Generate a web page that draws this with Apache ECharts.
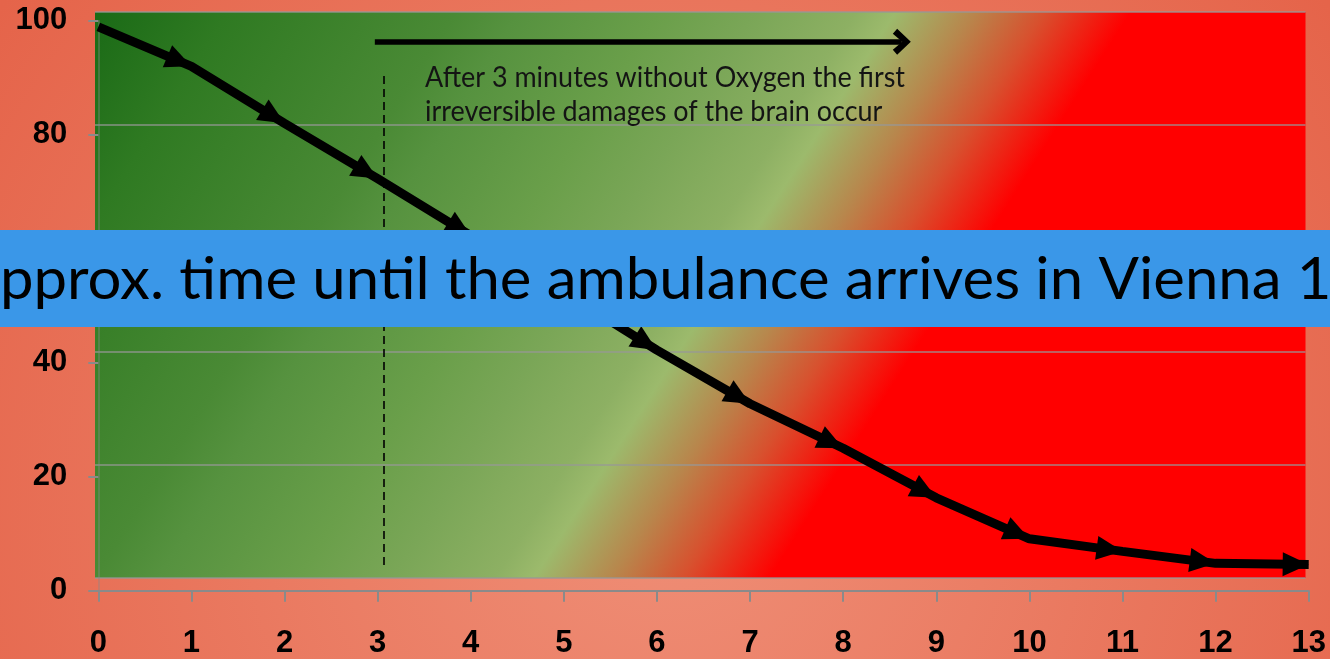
<!DOCTYPE html>
<html>
<head>
<meta charset="utf-8">
<script src="https://cdn.jsdelivr.net/npm/echarts@6/dist/echarts.min.js"></script>
<style>
html,body{margin:0;padding:0;width:1330px;height:659px;overflow:hidden}
#c{width:1330px;height:659px}
</style>
</head>
<body>
<div id="c"></div>
<script>
// ---- data ----
const minutes  = [0, 1, 2, 3, 4, 5, 6, 7, 8, 9, 10, 11, 12, 13];
const survival = [98.9, 92.0, 82.0, 72.3, 62.3, 52.4, 42.2, 32.8, 25.0, 16.3, 9.1, 6.9, 4.8, 4.6];
const xTickMin = 0, xTickMax = 13, xTickStep = 1;
const yTickMin = 0, yTickMax = 100, yTickStep = 20;

const bannerText = 'Approx. time until the ambulance arrives in Vienna 11 min';
const noteLines = ['After 3 minutes without Oxygen the first', 'irreversible damages of the brain occur'];
const oxygenMarker = { x: 3.07, from: 4.5, to: 90.5 };      // dashed vertical line
const damageArrow  = { from: 2.97, to: 8.63, y: 96.3 };     // horizontal arrow

// ---- text fitting helpers ----
const mctx = document.createElement('canvas').getContext('2d');
function measure(txt, size, family, weight) {
  mctx.font = (weight || 'normal') + ' ' + size + 'px ' + family;
  return mctx.measureText(txt).width;
}
const FAM = 'Lato';
const bannerSize = 100 * 1297 / measure('pprox. time until the ambulance arrives in Vienna ', 100, FAM);
const bannerX = -measure('A', bannerSize, FAM);
const bannerScaleY = 42 / (0.72 * bannerSize);
const noteSize = 100 * 480 / measure(noteLines[0], 100, FAM);
const noteScaleY = 1.1;

const chart = echarts.init(document.getElementById('c'));

const plotGradient = new echarts.graphic.LinearGradient(95, 12, 95 + 1115, 12 + 712, [
  { offset: 0.00, color: '#1a6a16' },
  { offset: 0.085, color: '#2f7a22' },
  { offset: 0.23, color: '#4a8a35' },
  { offset: 0.27, color: '#56923f' },
  { offset: 0.36, color: '#6a9f4a' },
  { offset: 0.42, color: '#7aa657' },
  { offset: 0.485, color: '#8db063' },
  { offset: 0.51, color: '#9cba6c' },
  { offset: 0.56, color: '#b8864c' },
  { offset: 0.605, color: '#d8502e' },
  { offset: 0.66, color: '#ff0000' },
  { offset: 1.00, color: '#ff0000' }
], true);

const pageGradient = new echarts.graphic.RadialGradient(0.5, 0.75, 1.25, [
  { offset: 0, color: '#ef8f77' },
  { offset: 1, color: '#e5644a' }
]);

const chevron = 'path://M10,0 L20,12 L16.2,15.8 L10,7.5 L3.8,15.8 L0,12 Z';
const axisGray = '#8a8a8a';
const labelFont = { fontSize: 31, fontWeight: 'bold', color: '#000', fontFamily: 'Liberation Sans' };

function buildSeriesData(rot) {
  return minutes.map((m, i) => {
    const item = { value: [m, survival[i]] };
    if (i === 0) item.symbol = 'none';
    else if (rot) { item.symbolRotate = rot[i].angle; item.symbolOffset = rot[i].offset; }
    return item;
  });
}

const option = {
  animation: false,
  backgroundColor: pageGradient,
  grid: [
    { left: 98.3, right: 21.3, top: 20.7, bottom: 68.3, outerBoundsMode: 'none', containLabel: false },
    { left: 95, right: 24.5, top: 12, bottom: 81, show: true, backgroundColor: plotGradient, borderWidth: 0, outerBoundsMode: 'none', containLabel: false }
  ],
  xAxis: [
    {
      gridIndex: 0, type: 'value', min: xTickMin, max: xTickMax, interval: xTickStep,
      axisLine: { show: true, lineStyle: { color: axisGray, width: 2 } },
      axisTick: { show: true, length: 11, lineStyle: { color: axisGray, width: 2 } },
      axisLabel: Object.assign({ margin: 37 }, labelFont),
      splitLine: { show: false }
    },
    {
      gridIndex: 1, type: 'value', min: xTickMin, max: xTickMax, interval: xTickStep,
      axisLine: { show: false }, axisTick: { show: false }, axisLabel: { show: false }, splitLine: { show: false }
    }
  ],
  yAxis: [
    {
      gridIndex: 0, type: 'value', min: yTickMin, max: yTickMax, interval: yTickStep,
      axisLine: { show: true, lineStyle: { color: 'rgba(138,138,138,0.5)', width: 1.5 } },
      axisTick: { show: true, length: 10, lineStyle: { color: axisGray, width: 2 } },
      axisLabel: Object.assign({ margin: 31 }, labelFont),
      splitLine: { show: false }
    },
    {
      gridIndex: 1, type: 'value', min: yTickMin, max: yTickMax, interval: yTickStep,
      axisLine: { show: false }, axisTick: { show: false }, axisLabel: { show: false },
      splitLine: { show: true, lineStyle: { color: 'rgba(150,150,150,0.85)', width: 1.5 } }
    }
  ],
  series: [{
    type: 'line',
    xAxisIndex: 0, yAxisIndex: 0,
    data: buildSeriesData(null),
    symbol: 'triangle',
    symbolSize: [24, 26],
    itemStyle: { color: '#000' },
    lineStyle: { color: '#000', width: 9 },
    z: 5,
    silent: true,
    markLine: {
      silent: true,
      animation: false,
      symbol: 'none',
      label: { show: false },
      emphasis: { disabled: true },
      data: [
        [
          { coord: [oxygenMarker.x, oxygenMarker.from], symbol: 'none', lineStyle: { color: '#000', width: 1.6, type: [8, 5] } },
          { coord: [oxygenMarker.x, oxygenMarker.to], symbol: 'none', lineStyle: { color: '#000', width: 1.6, type: [8, 5] } }
        ],
        [
          { coord: [damageArrow.from, damageArrow.y], symbol: 'none', lineStyle: { color: '#000', width: 5.5, type: 'solid' } },
          { coord: [damageArrow.to, damageArrow.y], symbol: chevron, symbolSize: [26, 18], lineStyle: { color: '#000', width: 5.5, type: 'solid' } }
        ]
      ]
    }
  }],
  graphic: [
    { type: 'text', x: 425, y: 77, z: 50, silent: true, scaleY: noteScaleY,
      style: { text: noteLines[0], fill: '#141414', font: noteSize.toFixed(2) + 'px ' + FAM, textVerticalAlign: 'middle' } },
    { type: 'text', x: 425, y: 111, z: 50, silent: true, scaleY: noteScaleY,
      style: { text: noteLines[1], fill: '#141414', font: noteSize.toFixed(2) + 'px ' + FAM, textVerticalAlign: 'middle' } },
    { type: 'rect', z: 100, silent: true, shape: { x: 0, y: 230, width: 1330, height: 97 }, style: { fill: '#3a97e8' } },
    { type: 'text', x: bannerX, y: 280, z: 101, silent: true, scaleY: bannerScaleY,
      style: { text: bannerText, fill: '#000', font: bannerSize.toFixed(2) + 'px ' + FAM, textVerticalAlign: 'middle' } }
  ]
};

chart.setOption(option);

// orient the arrowheads along the incoming segment, using the library's own scales
const px = minutes.map((m, i) => chart.convertToPixel({ xAxisIndex: 0, yAxisIndex: 0 }, [m, survival[i]]));
const rot = px.map((p, i) => {
  if (i === 0) return null;
  const dx = p[0] - px[i - 1][0], dy = p[1] - px[i - 1][1];
  const len = Math.hypot(dx, dy);
  const ux = dx / len, uy = dy / len;
  return { angle: Math.atan2(-dy, dx) * 180 / Math.PI - 90, offset: [-ux * 13, -uy * 13] };
});
chart.setOption({ series: [{ data: buildSeriesData(rot) }] });
</script>
</body>
</html>
